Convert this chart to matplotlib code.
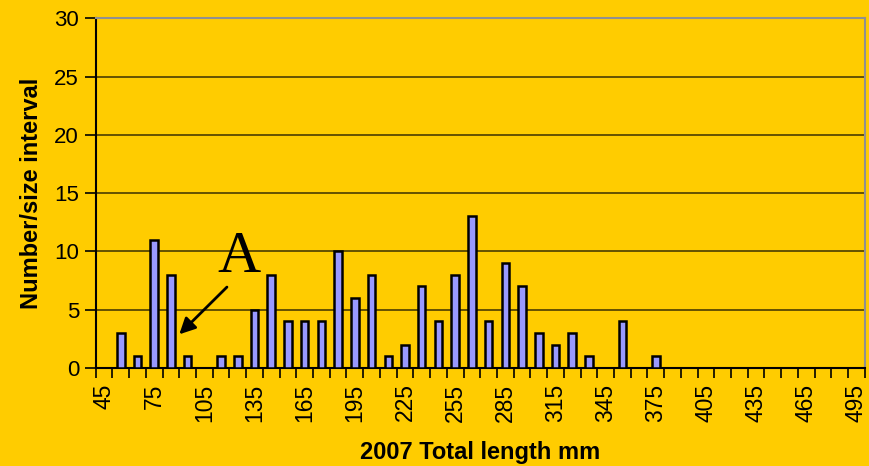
import matplotlib.pyplot as plt
import numpy as np

# size classes (mm) and counts per class
lengths = list(range(45, 500, 10))
counts = [0, 3, 1, 11, 8, 1, 0, 1, 1, 5, 8, 4, 4, 4, 10, 6, 8, 1, 2, 7, 4, 8,
          13, 4, 9, 7, 3, 2, 3, 1, 0, 4, 0, 1, 0, 0, 0, 0, 0, 0, 0, 0, 0, 0,
          0, 0]
label_lengths = lengths[::3]

bg = '#FFCC00'
plt.rcParams['font.family'] = ['Liberation Sans', 'DejaVu Sans']

fig = plt.figure(figsize=(8.7, 4.66), dpi=100, facecolor=bg)
ax = fig.add_axes([0.110, 0.210, 0.884, 0.751], facecolor=bg)

x = np.arange(len(lengths))
ax.bar(x, counts, width=0.45, color='#9999FF', edgecolor='black',
       linewidth=1.8, zorder=3)

ax.set_xlim(-0.5, len(lengths) - 0.5)
ax.set_ylim(0, 30)
ax.set_yticks(range(0, 31, 5))
ax.yaxis.grid(True, color='#3a3000', linewidth=1.1, zorder=1)

# tick marks on class boundaries, labels on every third class
ax.set_xticks(np.arange(len(lengths) + 1) - 0.5)
ax.set_xticklabels([])
ax.set_xticks([lengths.index(v) for v in label_lengths], minor=True)
ax.set_xticklabels([str(v) for v in label_lengths], minor=True,
                   rotation=90, fontsize=16.5)
ax.tick_params(axis='x', which='major', length=7, width=1.2, color='black')
ax.tick_params(axis='x', which='minor', length=0, pad=11)
ax.tick_params(axis='y', length=8, width=1.2, labelsize=16, pad=4)

for side in ('top', 'right'):
    ax.spines[side].set_color('#909090')
    ax.spines[side].set_linewidth(1.5)
ax.spines['left'].set_linewidth(1.5)
ax.spines['bottom'].set_linewidth(1.5)

ax.set_ylabel('Number/size interval', fontsize=17, fontweight='bold',
              labelpad=8)
ax.set_xlabel('2007 Total length mm', fontsize=17, fontweight='bold',
              labelpad=14)

# marker letter and arrow pointing at the empty 105 mm class region
ax.text(8.1, 9.4, 'A', fontsize=43, ha='center', va='center',
        family=['Liberation Serif', 'DejaVu Serif'])
ax.annotate('', xy=(4.5, 2.9), xytext=(7.35, 6.95),
            arrowprops=dict(arrowstyle='-|>', color='black', lw=2,
                            mutation_scale=24, shrinkA=0, shrinkB=0))

fig.savefig('out.png', dpi=100, facecolor=bg)
